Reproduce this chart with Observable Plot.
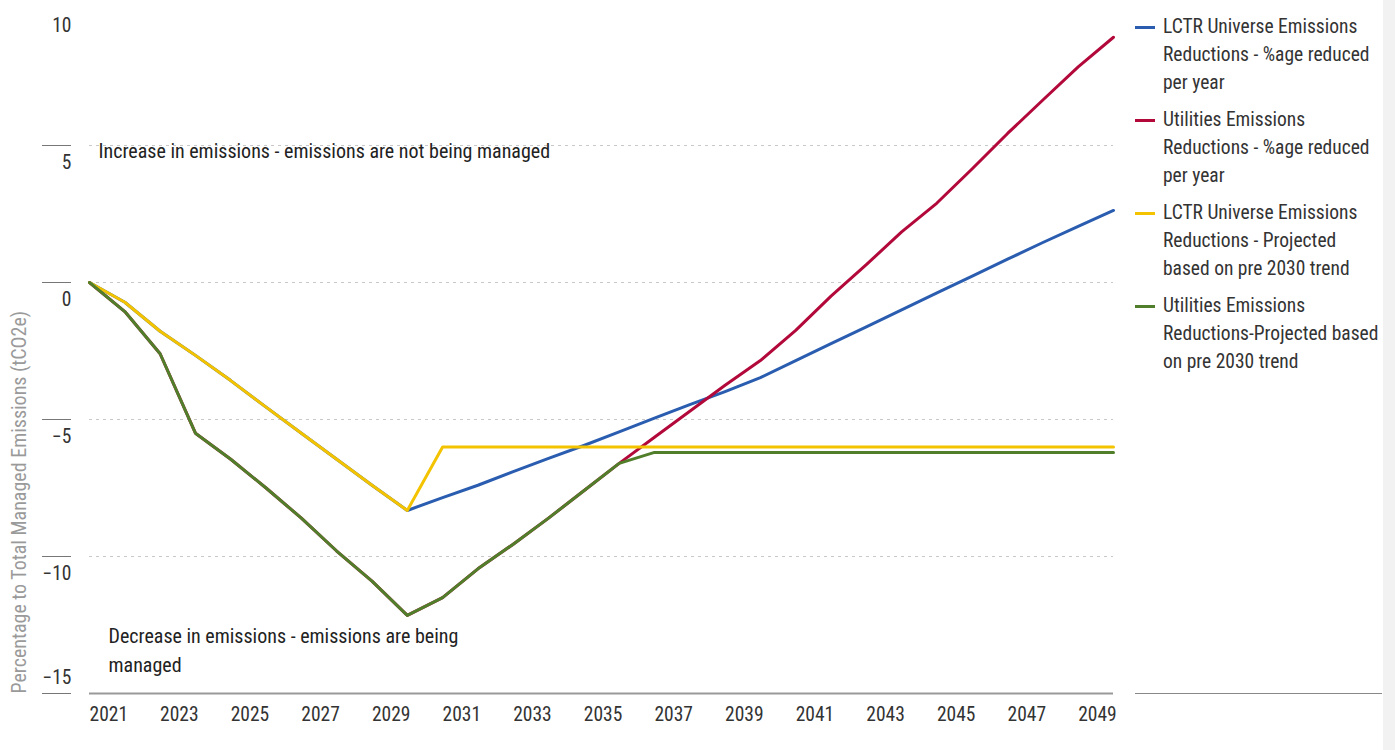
<!DOCTYPE html>
<html><head><meta charset="utf-8">
<script src="https://cdn.jsdelivr.net/npm/d3@7"></script>
<script src="https://cdn.jsdelivr.net/npm/@observablehq/plot@0.6"></script>
<style>
body{margin:0;background:#fff;width:1395px;height:750px;overflow:hidden;position:relative;font-family:"Liberation Sans Narrow","Roboto Condensed","Arial Narrow",Roboto,sans-serif;}
#chart{position:absolute;left:0;top:0;}
#legend{position:absolute;left:1135px;top:13px;width:247px;height:680px;border-bottom:1px solid #888;}
.item{display:flex;align-items:flex-start;margin-bottom:9px;font-size:19.5px;line-height:28px;color:#333;}
.sw{width:20px;height:3px;margin-top:12.5px;margin-right:8px;flex:none;}
#strip{position:absolute;left:1383px;top:0;width:12px;height:750px;background:#f2f2f2;}
</style>
</head><body>
<div id="chart"></div>
<div id="legend"></div>
<div id="strip"></div>
<script>
const FONT = '"Liberation Sans Narrow","Roboto Condensed","Arial Narrow",Roboto,sans-serif';

const years = [2021,2022,2023,2024,2025,2026,2027,2028,2029,2030,2031,2032,2033,2034,2035,2036,2037,2038,2039,2040,2041,2042,2043,2044,2045,2046,2047,2048,2049,2050];

const seriesNames = [
  "LCTR Universe Emissions Reductions - %age reduced per year",
  "Utilities Emissions Reductions - %age reduced per year",
  "LCTR Universe Emissions Reductions - Projected based on pre 2030 trend",
  "Utilities Emissions Reductions-Projected based on pre 2030 trend"
];
const legendLines = [
  ["LCTR Universe Emissions", "Reductions - %age reduced", "per year"],
  ["Utilities Emissions", "Reductions - %age reduced", "per year"],
  ["LCTR Universe Emissions", "Reductions - Projected", "based on pre 2030 trend"],
  ["Utilities Emissions", "Reductions-Projected based", "on pre 2030 trend"]
];
const colors = ["#2a5db0", "#b2083a", "#f3c300", "#517e2b"];

const lctrReduced = [0,-0.72,-1.78,-2.66,-3.58,-4.55,-5.5,-6.45,-7.4,-8.32,-7.85,-7.4,-6.9,-6.42,-5.95,-5.45,-4.95,-4.46,-3.98,-3.47,-2.85,-2.23,-1.62,-1.0,-0.38,0.23,0.85,1.46,2.05,2.63];
const utilReduced = [0,-1.06,-2.6,-5.5,-6.45,-7.5,-8.6,-9.8,-10.9,-12.15,-11.5,-10.45,-9.55,-8.6,-7.6,-6.6,-5.65,-4.7,-3.75,-2.85,-1.75,-0.5,0.65,1.85,2.9,4.15,5.44,6.66,7.87,8.95];
const lctrProjected = [0,-0.72,-1.78,-2.66,-3.58,-4.55,-5.5,-6.45,-7.4,-8.32,-6.0,-6.0,-6.0,-6.0,-6.0,-6.0,-6.0,-6.0,-6.0,-6.0,-6.0,-6.0,-6.0,-6.0,-6.0,-6.0,-6.0,-6.0,-6.0,-6.0];
const utilProjected = [0,-1.06,-2.6,-5.5,-6.45,-7.5,-8.6,-9.8,-10.9,-12.15,-11.5,-10.45,-9.55,-8.6,-7.6,-6.6,-6.2,-6.2,-6.2,-6.2,-6.2,-6.2,-6.2,-6.2,-6.2,-6.2,-6.2,-6.2,-6.2,-6.2];

const xTicks = [2021,2023,2025,2027,2029,2031,2033,2035,2037,2039,2041,2043,2045,2047,2049];
const yTickLines = [5,0,-5,-10,-15];
const yLabelsBelow = [10,5,0,-5,-10];
const yLabelsAbove = [-15];
const gridTicks = [5,0,-5,-10];

const yTitle = "Percentage to Total Managed Emissions (tCO2e)";
const noteUp = "Increase in emissions - emissions are not being managed";
const noteDown = "Decrease in emissions - emissions are being\nmanaged";

const seriesValues = [lctrReduced, utilReduced, lctrProjected, utilProjected];
const table = [];
seriesValues.forEach((vals, s) => vals.forEach((v, i) => table.push({series: seriesNames[s], year: years[i], value: v})));

const chart = Plot.plot({
  width: 1120, height: 750,
  marginLeft: 89, marginRight: 7, marginTop: 8, marginBottom: 57,
  style: {fontFamily: FONT, fontSize: "19.5px", color: "#333", background: "transparent"},
  x: {domain: [2021, 2050]},
  y: {domain: [-15, 10]},
  color: {domain: seriesNames, range: colors},
  marks: [
    Plot.gridY(gridTicks, {stroke: "#c8c8c8", strokeOpacity: 1, strokeDasharray: "3,4"}),
    Plot.axisY(yTickLines, {tickSize: 29, dx: -18, tickFormat: () => "", stroke: "#777", label: null}),
    Plot.axisY(yLabelsBelow, {tickSize: 0, tickPadding: 0, dx: -18, dy: 17, fill: "#333", label: null}),
    Plot.axisY(yLabelsAbove, {tickSize: 0, tickPadding: 0, dx: -18, dy: -16, fill: "#333", label: null}),
    Plot.axisX(xTicks, {tickSize: 0, tickPadding: 14, textAnchor: "start", tickFormat: d => String(d), fill: "#333", label: null}),
    Plot.ruleY([-15], {stroke: "#999", strokeWidth: 2}),
    Plot.lineY(table, {x: "year", y: "value", z: "series", stroke: "series", strokeWidth: 3}),
    Plot.text([noteUp], {frameAnchor: "top-left", dx: 9, dy: 143, lineAnchor: "middle", textAnchor: "start", fill: "#222", fontSize: 20}),
    Plot.text([noteDown], {frameAnchor: "bottom-left", dx: 19, dy: -22, lineAnchor: "bottom", textAnchor: "start", lineHeight: 1.45, fill: "#222", fontSize: 20}),
    Plot.text([yTitle], {frameAnchor: "bottom-left", rotate: -90, textAnchor: "start", dx: -64, dy: 0, fill: "#9a9a9a", fontSize: 20})
  ]
});
document.getElementById("chart").appendChild(chart);

const legend = document.getElementById("legend");
seriesNames.forEach((name, i) => {
  const item = document.createElement("div");
  item.className = "item";
  const sw = document.createElement("div");
  sw.className = "sw";
  sw.style.background = colors[i];
  const txt = document.createElement("div");
  txt.innerHTML = legendLines[i].join("<br>");
  txt.title = name;
  item.appendChild(sw);
  item.appendChild(txt);
  legend.appendChild(item);
});
</script>
</body></html>
